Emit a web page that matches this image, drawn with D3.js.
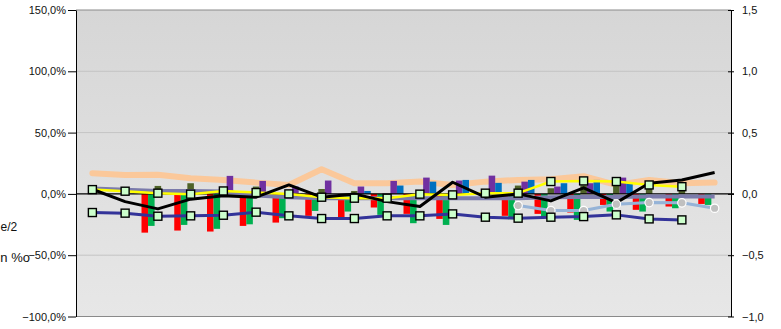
<!DOCTYPE html>
<html>
<head>
<meta charset="utf-8">
<script src="https://cdn.jsdelivr.net/npm/d3@7"></script>
<style>
  body { margin: 0; background: #fff; }
  svg { display: block; font-family: "Liberation Sans", Arial, sans-serif; }
</style>
</head>
<body>
<svg id="chart"></svg>
<script>
// categories (no labels shown on the axis)
var categories = d3.range(1, 21).map(String);

// bar series, in % (left axis)
var redBars    = [null, null, -31.6, -29.9, -30.7, -26.1, -23.4, -17.9, -19.0, -11.1, -16.3, -20.4, null, -17.9, -16.3, -15.2, -9.0, -13.0, -10.3, -8.2];
var greenBars  = [null, null, -26.1, -25.3, -28.5, -24.8, -19.8, -13.9, -14.4, -17.1, -23.9, -25.3, null, -20.7, -19.0, -21.2, -14.4, -14.4, -11.7, -9.0];
var oliveBars  = [null, null, 6.5, 8.7, 1.0, 6.0, null, 4.0, 2.4, null, null, null, null, 6.8, 4.6, 7.0, 7.0, 6.0, 5.0, null];
var purpleBars = [null, null, null, null, 14.7, 10.6, 6.0, 10.9, 6.0, 10.6, 13.3, 10.9, 14.9, 10.0, 6.0, 8.7, 13.3, null, null, null];
var blueBars   = [null, null, null, null, null, null, null, null, 2.4, 6.8, 10.0, 11.4, 9.0, 11.4, 8.7, 11.4, 8.7, null, null, null];

// line series, in % (left axis)
var peachLine  = [16.9, 15.5, 15.7, 12.8, 11.4, 9.2, 7.3, 20.1, 8.7, 8.7, 10.2, 7.3, 10.0, 11.4, 12.0, 14.4, 7.3, 11.4, 8.7, 9.2];
var slateLine  = [4.5, 3.3, 2.4, 2.4, 1.9, -1.4, -2.7, -3.5, -3.5, -3.5, -3.5, -3.5, -3.5, -3.5, -2.7, -2.5, -2.5, -2.2, -2.2, -2.2];
var yellowLine = [3.5, 2.2, 0.6, -0.2, 2.4, 1.1, 0.0, -2.7, -3.5, -3.5, -0.2, -0.8, 0.6, 0.6, 10.1, 10.6, 10.1, 7.3, 5.9, null];
var navyLine   = [-15.2, -15.7, -18.2, -17.9, -17.4, -14.9, -17.9, -20.1, -20.1, -17.9, -17.9, -16.3, -19.0, -19.8, -19.0, -18.5, -17.1, -20.4, -21.2, null];

// line series on the right axis
var blackLine  = [0.038, -0.063, -0.122, -0.043, -0.016, -0.027, 0.073, -0.027, 0.0, -0.063, -0.103, 0.095, -0.027, 0.0, -0.057, 0.05, -0.071, 0.087, 0.114, 0.174];
var skyLine    = [null, null, null, null, null, null, null, null, null, null, null, null, null, -0.095, -0.136, -0.136, -0.084, -0.071, -0.073, -0.117];

// tick labels
var leftTicks  = [-100, -50, 0, 50, 100, 150];
var rightTicks = [-1, -0.5, 0, 0.5, 1, 1.5];

const dim = { width: 781, height: 329, left: 76, right: 731, top: 10, bottom: 316.5 };

const svg = d3.select("#chart")
    .attr("width", dim.width)
    .attr("height", dim.height);

// plot area background gradient
const grad = svg.append("defs").append("linearGradient")
    .attr("id", "bg").attr("x1", 0).attr("y1", 0).attr("x2", 0).attr("y2", 1);
grad.append("stop").attr("offset", "0%").attr("stop-color", "#d6d6d6");
grad.append("stop").attr("offset", "100%").attr("stop-color", "#e7e7e7");

svg.append("rect")
    .attr("x", dim.left).attr("y", dim.top)
    .attr("width", dim.right - dim.left).attr("height", dim.bottom - dim.top)
    .attr("fill", "url(#bg)");

let x = d3.scaleBand().domain(categories).range([dim.left, dim.right]).padding(0);
let yL = d3.scaleLinear().domain([-100, 150]).range([dim.bottom, dim.top]);
let yR = d3.scaleLinear().domain([-1, 1.5]).range([dim.bottom, dim.top]);
let cx = d => x(d) + x.bandwidth() / 2;

// gridlines
svg.append("g").selectAll("line")
    .data(leftTicks.filter(t => t !== 0 && t !== 150 && t !== -100))
    .join("line")
    .attr("x1", dim.left).attr("x2", dim.right)
    .attr("y1", d => yL(d)).attr("y2", d => yL(d))
    .attr("stroke", "#c4c4c4").attr("stroke-width", 1);

// top / bottom border
svg.append("line").attr("x1", dim.left).attr("x2", dim.right)
    .attr("y1", yL(150)).attr("y2", yL(150)).attr("stroke", "#8a8a8a");
svg.append("line").attr("x1", dim.left).attr("x2", dim.right)
    .attr("y1", yL(-100)).attr("y2", yL(-100)).attr("stroke", "#8a8a8a");

// peach line sits behind the bars
const lineL = d3.line().defined(d => d[1] != null).x(d => cx(d[0])).y(d => yL(d[1]));
const lineR = d3.line().defined(d => d[1] != null).x(d => cx(d[0])).y(d => yR(d[1]));
const pairs = arr => categories.map((c, i) => [c, arr[i]]);

svg.append("path")
    .datum(pairs(peachLine))
    .attr("fill", "none").attr("stroke", "#fbc89a").attr("stroke-width", 6)
    .attr("stroke-linejoin", "round").attr("stroke-linecap", "round")
    .attr("d", lineL);

// clustered bars
const barSeries = [
    { name: "red", values: redBars, color: "#ff0000" },
    { name: "green", values: greenBars, color: "#00b050" },
    { name: "olive", values: oliveBars, color: "#4f6228" },
    { name: "purple", values: purpleBars, color: "#7030a0" },
    { name: "blue", values: blueBars, color: "#0070c0" }
];
let slot = d3.scaleBand().domain(barSeries.map(s => s.name)).range([0, x.bandwidth()]).padding(0);

barSeries.forEach(s => {
    svg.append("g").selectAll("rect")
        .data(pairs(s.values).filter(d => d[1] != null))
        .join("rect")
        .attr("x", d => x(d[0]) + slot(s.name))
        .attr("width", slot.bandwidth())
        .attr("y", d => Math.min(yL(0), yL(d[1])))
        .attr("height", d => Math.abs(yL(d[1]) - yL(0)))
        .attr("fill", s.color);
});

// zero line
svg.append("line").attr("x1", dim.left).attr("x2", dim.right + 3)
    .attr("y1", yL(0)).attr("y2", yL(0)).attr("stroke", "#000").attr("stroke-width", 1.2);

// other lines
svg.append("path").datum(pairs(slateLine))
    .attr("fill", "none").attr("stroke", "#7b7bab").attr("stroke-width", 4)
    .attr("stroke-linejoin", "round").attr("d", lineL);

svg.append("path").datum(pairs(yellowLine))
    .attr("fill", "none").attr("stroke", "#ffff00").attr("stroke-width", 2.5)
    .attr("stroke-linejoin", "round").attr("d", lineL);

svg.append("path").datum(pairs(navyLine))
    .attr("fill", "none").attr("stroke", "#333399").attr("stroke-width", 3)
    .attr("stroke-linejoin", "round").attr("d", lineL);

svg.append("path").datum(pairs(skyLine))
    .attr("fill", "none").attr("stroke", "#95b3d7").attr("stroke-width", 3)
    .attr("stroke-linejoin", "round").attr("d", lineR);

svg.append("path").datum(pairs(blackLine))
    .attr("fill", "none").attr("stroke", "#000").attr("stroke-width", 3)
    .attr("stroke-linejoin", "round").attr("d", lineR);

// markers
svg.append("g").selectAll("circle")
    .data(pairs(skyLine).filter(d => d[1] != null))
    .join("circle")
    .attr("cx", d => cx(d[0])).attr("cy", d => yR(d[1])).attr("r", 4.2)
    .attr("fill", "#c0c0c0").attr("stroke", "#fff").attr("stroke-width", 1.2);

[yellowLine, navyLine].forEach(arr => {
    svg.append("g").selectAll("rect")
        .data(pairs(arr).filter(d => d[1] != null))
        .join("rect")
        .attr("x", d => cx(d[0]) - 4).attr("y", d => yL(d[1]) - 4)
        .attr("width", 8).attr("height", 8)
        .attr("fill", "#ccffcc").attr("stroke", "#000").attr("stroke-width", 1.4);
});

// axes
const fmtL = d => d3.format(".1f")(d).replace(".", ",") + "%";
const fmtR = d => d3.format(".1f")(d).replace(".", ",");

svg.append("g")
    .attr("transform", `translate(${dim.left}, 0)`)
    .call(d3.axisLeft(yL).tickValues(leftTicks).tickFormat(fmtL).tickSize(8).tickPadding(2).tickSizeOuter(0))
    .call(g => g.select(".domain").attr("stroke", "#000"))
    .call(g => g.selectAll("text").attr("font-size", 11).attr("fill", "#111")
        .style("font-family", "'Liberation Sans', Arial, sans-serif"));

svg.append("g")
    .attr("transform", `translate(${dim.right}, 0)`)
    .call(d3.axisRight(yR).tickValues(rightTicks).tickFormat(fmtR).tickSize(3).tickPadding(8).tickSizeOuter(0))
    .call(g => g.selectAll(".tick line").attr("x1", -3))
    .call(g => g.select(".domain").attr("stroke", "#000"))
    .call(g => g.selectAll("text").attr("font-size", 11).attr("fill", "#111")
        .style("font-family", "'Liberation Sans', Arial, sans-serif"));

// titles at the left edge
svg.append("text").attr("x", 0.5).attr("y", 231)
    .attr("font-size", 12).attr("fill", "#111").text("e/2");
svg.append("text").attr("x", 30).attr("y", 262).attr("text-anchor", "end")
    .attr("font-size", 13).attr("fill", "#111").text("n %o");
</script>
</body>
</html>
